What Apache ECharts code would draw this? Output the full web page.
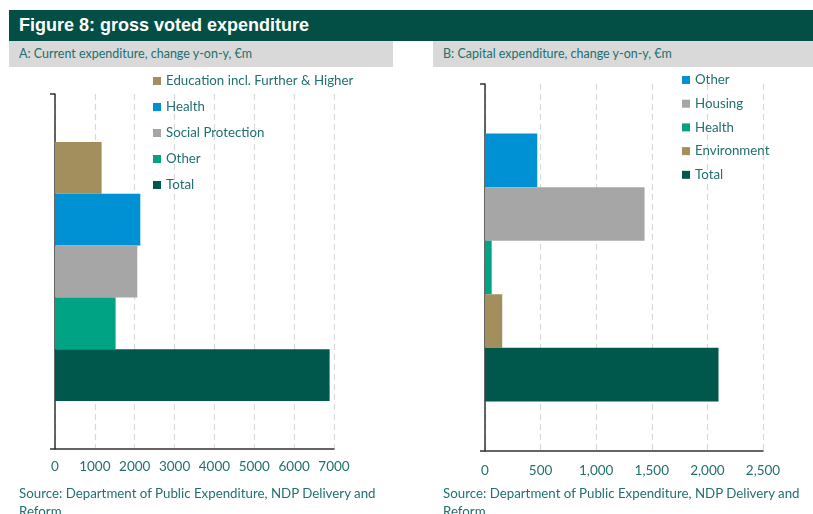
<!DOCTYPE html>
<html>
<head>
<meta charset="utf-8">
<script src="https://cdn.jsdelivr.net/npm/echarts@6/dist/echarts.min.js"></script>
<style>
  html, body { margin: 0; padding: 0; width: 813px; height: 514px; overflow: hidden; background: #fff; }
  .bar { position: absolute; left: 9px; top: 10px; width: 804px; height: 31px; background: #034F45; }
  .bar span { position: absolute; left: 10px; top: 5px; color: #fff; font: bold 18px "Liberation Sans", Arial, sans-serif; }
  .sub { position: absolute; top: 41px; height: 26px; background: #D9D9D9; color: #21706f; font: 12.5px Lato, sans-serif; line-height: 26px; }
  .src { position: absolute; top: 484px; color: #21706f; font: 13.3px Lato, sans-serif; line-height: 18px; width: 380px; }
  .chart { position: absolute; top: 67px; height: 420px; }
</style>
</head>
<body>
<div class="bar"><span>Figure 8: gross voted expenditure</span></div>
<div class="sub" style="left:9px;width:384px;padding-left:10px;box-sizing:border-box;">A: Current expenditure, change y-on-y, €m</div>
<div class="sub" style="left:433px;width:380px;padding-left:10px;box-sizing:border-box;">B: Capital expenditure, change y-on-y, €m</div>
<div id="chartA" class="chart" style="left:0;width:400px;"></div>
<div id="chartB" class="chart" style="left:420px;width:393px;"></div>
<div class="src" style="left:19px;">Source: Department of Public Expenditure, NDP Delivery and Reform</div>
<div class="src" style="left:443px;">Source: Department of Public Expenditure, NDP Delivery and Reform</div>
<script>
// panel A: current expenditure
var namesA = ['Education incl. Further & Higher', 'Health', 'Social Protection', 'Other', 'Total'];
var valuesA = [1170, 2140, 2065, 1520, 6890];
var colorsA = ['#A28F5D', '#0090D4', '#A6A6A6', '#00A383', '#00574B'];
var ticksA = [0, 1000, 2000, 3000, 4000, 5000, 6000, 7000];

// panel B: capital expenditure
var namesB = ['Other', 'Housing', 'Health', 'Environment', 'Total'];
var valuesB = [470, 1435, 60, 155, 2100];
var colorsB = ['#0090D4', '#A6A6A6', '#00A383', '#A28F5D', '#00574B'];
var ticksB = [0, 500, 1000, 1500, 2000, 2500];

var textColor = '#21706f';

function makeOption(names, values, colors, ticks, g, lg, fmt) {
    return {
        animation: false,
        color: colors,
        legend: {
            orient: 'vertical',
            left: lg.left,
            top: lg.top,
            padding: 0,
            itemWidth: 8,
            itemHeight: 8,
            itemGap: lg.gap,
            icon: 'rect',
            textStyle: { color: textColor, fontFamily: 'Lato', fontSize: 13.3, lineHeight: 14 },
            data: names
        },
        grid: { left: g.left, top: g.top, width: g.width, height: g.height },
        xAxis: {
            type: 'value',
            min: ticks[0],
            max: ticks[ticks.length - 1],
            interval: ticks[1] - ticks[0],
            axisLine: { show: true, lineStyle: { color: '#333', width: 1.5 } },
            axisTick: { show: false },
            axisLabel: { color: textColor, fontFamily: 'Lato', fontSize: 13.5, margin: g.margin, formatter: fmt },
            splitLine: { show: true, lineStyle: { color: '#D9D9D9', type: [6, 4], width: 1.2 } }
        },
        yAxis: {
            type: 'category',
            data: [''],
            axisLine: { show: true, lineStyle: { color: '#333', width: 1.5 } },
            axisTick: { show: true, length: 5, lineStyle: { color: '#333', width: 1.5 } },
            axisLabel: { show: false }
        },
        series: names.map(function (n, i) {
            return {
                name: n,
                type: 'bar',
                barGap: '0%',
                barCategoryGap: '27%',
                data: [values[i]]
            };
        })
    };
}

var chartA = echarts.init(document.getElementById('chartA'));
chartA.setOption(makeOption(namesA, valuesA, colorsA, ticksA,
    { left: 55, top: 27, width: 279, height: 355, margin: 11 },
    { left: 153, top: 7, gap: 12 },
    function (v) { return String(v); }));

var chartB = echarts.init(document.getElementById('chartB'));
chartB.setOption(makeOption(namesB, valuesB, colorsB, ticksB,
    { left: 65, top: 17, width: 278, height: 367, margin: 13 },
    { left: 262, top: 6, gap: 9.7 },
    function (v) { return v.toLocaleString('en-US'); }));
</script>
</body>
</html>
